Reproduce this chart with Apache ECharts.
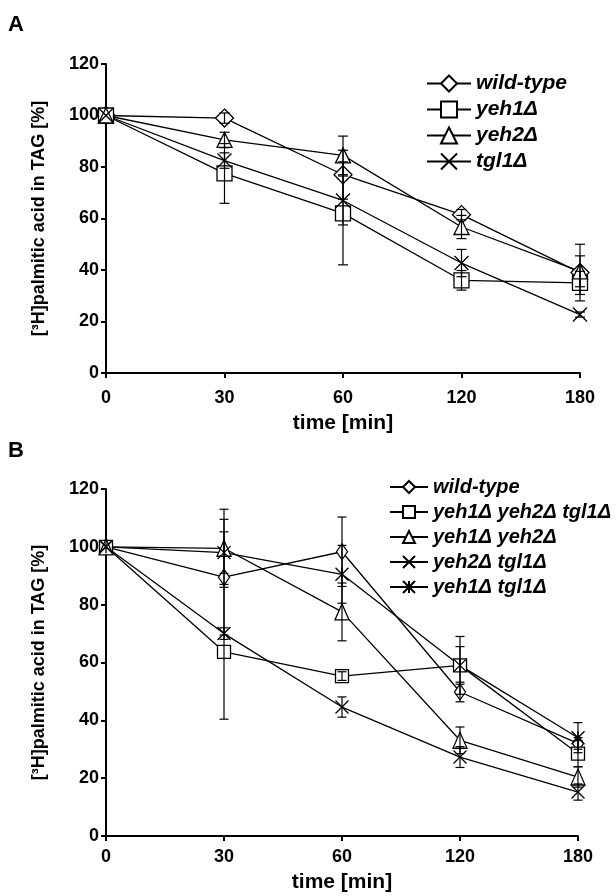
<!DOCTYPE html>
<html>
<head>
<meta charset="utf-8">
<script src="https://cdn.jsdelivr.net/npm/echarts@6/dist/echarts.min.js"></script>
<style>
  html, body { margin: 0; padding: 0; background: #fff; }
  #chart { width: 616px; height: 896px; }
</style>
</head>
<body>
<div id="chart"></div>
<script>
// time points (shown as evenly spaced categories, as in the figure)
const timeLabels = ['0', '30', '60', '120', '180'];
const yTicks = [0, 20, 40, 60, 80, 100, 120];

// panel A: single mutants
const aNames = ['wild-type', 'yeh1Δ', 'yeh2Δ', 'tgl1Δ'];
const aWildType = [100, 99, 77, 61.5, 39];
const aYeh1 = [100, 77.5, 62, 36, 35];
const aYeh2 = [100, 90.5, 84.5, 56.7, 39.5];
const aTgl1 = [100, 82.5, 67, 42.7, 22.7];
const aWildTypeErr = [0, 2, 9.5, 2, 11];
const aYeh1Err = [0, 11.6, 20, 3.8, 4.5];
const aYeh2Err = [0, 3, 7.5, 4.5, 6];
const aTgl1Err = [0, 3, 9.5, 5.3, 1];

// panel B: double / triple mutants
const bNames = ['wild-type ', 'yeh1Δ yeh2Δ tgl1Δ', 'yeh1Δ yeh2Δ', 'yeh2Δ tgl1Δ', 'yeh1Δ tgl1Δ'];
const bWildType = [100, 89.5, 98.3, 49.8, 32];
const bTriple = [100, 63.7, 55.3, 59, 28.5];
const bYeh1Yeh2 = [100, 99.5, 77.5, 33.1, 20.4];
const bYeh2Tgl1 = [100, 70, 44.6, 27.3, 15.2];
const bYeh1Tgl1 = [100, 98, 90.5, 59, 34];
const bWildTypeErr = [0, 20, 12, 3.4, 2];
const bTripleErr = [0, 23.3, 1.5, 10, 4.5];
const bYeh1Yeh2Err = [0, 13.5, 10, 4.6, 3.5];
const bYeh2Tgl1Err = [0, 2, 3.5, 3.6, 2.8];
const bYeh1Tgl1Err = [0, 7.2, 10, 6.5, 5.2];

const FONT = 'Liberation Sans, Arial, Helvetica, sans-serif';
const CROSS = 'path://M0,0L10,10M10,0L0,10';
const STAR = 'path://M0,0L10,10M10,0L0,10M5,0L5,10';

const chart = echarts.init(document.getElementById('chart'), null, { renderer: 'canvas' });

function lineSeries(name, data, symbol, size, idx) {
  return {
    name: name,
    type: 'line',
    xAxisIndex: idx,
    yAxisIndex: idx,
    data: data,
    symbol: symbol,
    symbolSize: size,
    showAllSymbol: true,
    z: 2,
    lineStyle: { color: '#000', width: 1.3 },
    itemStyle: { color: '#fff', borderColor: '#000', borderWidth: 1.3 },
    emphasis: { disabled: true }
  };
}

function errSeries(vals, errs, idx, capHalf) {
  return {
    type: 'custom',
    xAxisIndex: idx,
    yAxisIndex: idx,
    z: 3,
    silent: true,
    data: timeLabels.map((t, i) => [i, vals[i], errs[i]]),
    encode: { x: 0, y: 1 },
    renderItem: function (params, api) {
      const x = api.value(0), v = api.value(1), e = api.value(2);
      if (!e) return;
      const hi = api.coord([x, v + e]);
      const lo = api.coord([x, v - e]);
      const style = { stroke: '#000', lineWidth: 1.2 };
      return {
        type: 'group',
        children: [
          { type: 'line', shape: { x1: hi[0], y1: hi[1], x2: lo[0], y2: lo[1] }, style: style },
          { type: 'line', shape: { x1: hi[0] - capHalf, y1: hi[1], x2: hi[0] + capHalf, y2: hi[1] }, style: style },
          { type: 'line', shape: { x1: lo[0] - capHalf, y1: lo[1], x2: lo[0] + capHalf, y2: lo[1] }, style: style }
        ]
      };
    }
  };
}

function xAxis(idx, margin, gap) {
  return {
    type: 'category',
    gridIndex: idx,
    data: timeLabels,
    boundaryGap: false,
    name: 'time [min]',
    nameLocation: 'middle',
    nameGap: gap,
    nameTextStyle: { color: '#000', fontFamily: FONT, fontWeight: 'bold', fontSize: 21 },
    axisLine: { show: true, lineStyle: { color: '#000', width: 2 } },
    axisTick: { show: true, length: 5, lineStyle: { color: '#000', width: 2 } },
    axisLabel: { color: '#000', fontFamily: FONT, fontWeight: 'bold', fontSize: 18, margin: margin },
    splitLine: { show: false }
  };
}

function yAxis(idx) {
  return {
    type: 'value',
    gridIndex: idx,
    min: yTicks[0],
    max: yTicks[yTicks.length - 1],
    interval: 20,
    name: '[³H]palmitic acid in TAG [%]',
    nameLocation: 'middle',
    nameRotate: 90,
    nameGap: 58,
    nameTextStyle: { color: '#000', fontFamily: FONT, fontWeight: 'bold', fontSize: 18 },
    axisLine: { show: true, lineStyle: { color: '#000', width: 2 } },
    axisTick: { show: true, length: 5, lineStyle: { color: '#000', width: 2 } },
    axisLabel: { color: '#000', fontFamily: FONT, fontWeight: 'bold', fontSize: 18, margin: 7 },
    splitLine: { show: false }
  };
}

function legendText(size) {
  return { color: '#000', fontFamily: FONT, fontWeight: 'bold', fontStyle: 'italic', fontSize: size, lineHeight: 20 };
}

chart.setOption({
  animation: false,
  backgroundColor: '#fff',
  graphic: [
    { type: 'text', left: 8, top: 14, style: { text: 'A', font: 'bold 22px ' + FONT, fill: '#000' } },
    { type: 'text', left: 8, top: 440, style: { text: 'B', font: 'bold 22px ' + FONT, fill: '#000' } }
  ],
  legend: [
    {
      data: aNames, orient: 'vertical', left: 421, top: 68,
      itemWidth: 44, itemHeight: 20, itemGap: 5,
      selectedMode: false, textStyle: legendText(21)
    },
    {
      data: bNames, orient: 'vertical', left: 384, top: 472,
      itemWidth: 38, itemHeight: 15, itemGap: 5,
      selectedMode: false, textStyle: legendText(20)
    }
  ],
  grid: [
    { left: 106, top: 64, width: 474, height: 309 },
    { left: 106, top: 489, width: 472, height: 347 }
  ],
  xAxis: [xAxis(0, 16, 40), xAxis(1, 12, 36)],
  yAxis: [yAxis(0), yAxis(1)],
  series: [
    lineSeries(aNames[0], aWildType, 'diamond', 18, 0),
    lineSeries(aNames[1], aYeh1, 'rect', 15, 0),
    lineSeries(aNames[2], aYeh2, 'triangle', 15, 0),
    lineSeries(aNames[3], aTgl1, CROSS, 14, 0),
    lineSeries(bNames[0], bWildType, 'diamond', [11, 16], 1),
    lineSeries(bNames[1], bTriple, 'rect', 13, 1),
    lineSeries(bNames[2], bYeh1Yeh2, 'triangle', [14, 16], 1),
    lineSeries(bNames[3], bYeh2Tgl1, CROSS, 13, 1),
    lineSeries(bNames[4], bYeh1Tgl1, STAR, 13, 1),
    errSeries(aWildType, aWildTypeErr, 0, 5),
    errSeries(aYeh1, aYeh1Err, 0, 5),
    errSeries(aYeh2, aYeh2Err, 0, 5),
    errSeries(aTgl1, aTgl1Err, 0, 5),
    errSeries(bWildType, bWildTypeErr, 1, 4.5),
    errSeries(bTriple, bTripleErr, 1, 4.5),
    errSeries(bYeh1Yeh2, bYeh1Yeh2Err, 1, 4.5),
    errSeries(bYeh2Tgl1, bYeh2Tgl1Err, 1, 4.5),
    errSeries(bYeh1Tgl1, bYeh1Tgl1Err, 1, 4.5)
  ]
});
</script>
</body>
</html>
